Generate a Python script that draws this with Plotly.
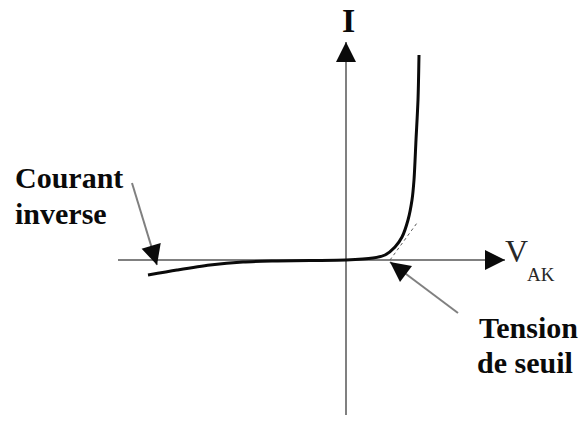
import math
import plotly.graph_objects as go

# ---------------------------------------------------------------
# caractéristique de la diode (unités arbitraires, origine au 0)
# ---------------------------------------------------------------
v_inverse = [-198, -169, -136, -103, -69, -36, 0]
i_inverse = [-15, -10, -5, -2, -1, -0.5, 0]

v_direct = [0, 27, 39, 49, 56, 62, 66, 68, 70, 72, 73]
i_direct = [0, 2, 5, 13, 23, 40, 60, 80, 120, 160, 205]

# tangente (tension de seuil)
v_tangente = [44, 71]
i_tangente = [0, 37]

# axes
axe_v = [-228, 159]
axe_i = [-155, 218]

# flèches d'annotation : (queue, pointe)
fleche_inverse = [(-214, 77), (-189, -5)]
fleche_seuil = [(112, -53), (44, -2)]

# textes
labels = [
    ("Courant", -333, 83, 30, True),
    ("inverse", -333, 47, 30, True),
    ("Tension", 131, -67, 30, True),
    ("de seuil", 129, -102, 30, True),
]

GRIS = "rgb(128,128,128)"
NOIR = "rgb(10,10,10)"
SERIF = "Liberation Serif, Times New Roman, serif"

fig = go.Figure()

# axes (traits gris)
fig.add_trace(go.Scatter(x=axe_v, y=[0, 0], mode="lines",
                         line=dict(color=GRIS, width=2), hoverinfo="skip"))
fig.add_trace(go.Scatter(x=[0, 0], y=axe_i, mode="lines",
                         line=dict(color=GRIS, width=2), hoverinfo="skip"))

# tangente en pointillés
fig.add_trace(go.Scatter(x=v_tangente, y=i_tangente, mode="lines",
                         line=dict(color="rgb(90,90,90)", width=1, dash="dot"),
                         hoverinfo="skip"))

# courbe
fig.add_trace(go.Scatter(x=v_inverse + v_direct[1:], y=i_inverse + i_direct[1:],
                         mode="lines", line=dict(color=NOIR, width=3, shape="spline",
                                                 smoothing=0.8),
                         hoverinfo="skip"))

# tiges des flèches
for (q, p) in (fleche_inverse, fleche_seuil):
    fig.add_trace(go.Scatter(x=[q[0], p[0]], y=[q[1], p[1]], mode="lines",
                             line=dict(color=GRIS, width=2), hoverinfo="skip"))


def tete(x, y, dx, dy, longueur=18):
    # pointe noire orientée selon (dx, dy), en unités = pixels
    n = math.hypot(dx, dy)
    fig.add_annotation(x=x, y=y, showarrow=True, arrowhead=2, arrowsize=2,
                       arrowwidth=2, arrowcolor=NOIR, text="",
                       ax=-dx / n * longueur, ay=dy / n * longueur)


tete(axe_v[1], 0, 1, 0)
tete(0, axe_i[1], 0, 1)
for (q, p) in (fleche_inverse, fleche_seuil):
    tete(p[0], p[1], p[0] - q[0], p[1] - q[1])

for txt, x, y, size, bold in labels:
    fig.add_annotation(x=x, y=y, text=f"<b>{txt}</b>" if bold else txt,
                       showarrow=False, xanchor="left", yanchor="middle",
                       font=dict(family=SERIF, size=size, color=NOIR))

fig.add_annotation(x=2, y=240, text="<b>I</b>", showarrow=False,
                   font=dict(family=SERIF, size=34, color=NOIR))
fig.add_annotation(x=157, y=9, text="V", showarrow=False, xanchor="left",
                   font=dict(family=SERIF, size=32, color="rgb(40,40,40)"))
fig.add_annotation(x=179, y=-14, text="AK", showarrow=False, xanchor="left",
                   font=dict(family=SERIF, size=19, color="rgb(40,40,40)"))

fig.update_layout(
    width=582,
    height=421,
    margin=dict(l=0, r=0, t=0, b=0),
    plot_bgcolor="white",
    paper_bgcolor="white",
    showlegend=False,
    xaxis=dict(range=[-346, 236], visible=False, fixedrange=True),
    yaxis=dict(range=[-161, 260], visible=False, fixedrange=True),
)

fig.write_html("out.html", config={"displayModeBar": False},
               post_script="document.body.style.margin='0';")
